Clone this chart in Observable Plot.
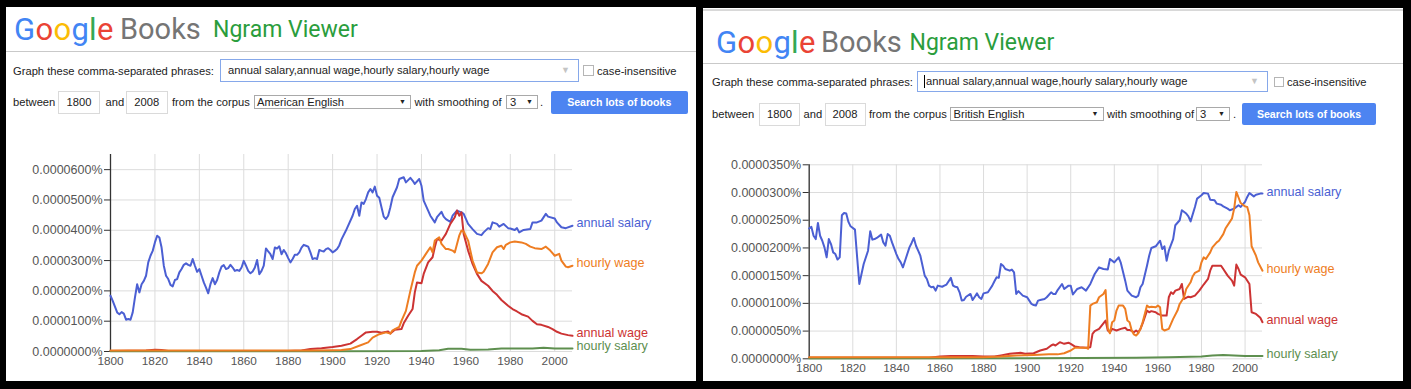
<!DOCTYPE html>
<html>
<head>
<meta charset="utf-8">
<script src="https://cdn.jsdelivr.net/npm/d3@7"></script>
<script src="https://cdn.jsdelivr.net/npm/@observablehq/plot@0.6"></script>
<style>
  html, body { margin: 0; padding: 0; }
  body { width: 1411px; height: 389px; background: #000; position: relative; overflow: hidden; }
  .panel { position: absolute; background: #fff; }
  .t { position: absolute; font-family: Arial, "Liberation Sans", sans-serif; font-size: 11.2px; line-height: 14px; color: #222; white-space: nowrap; }
  .logo { position: absolute; font-family: Roboto, "Open Sans", sans-serif; white-space: nowrap; }
  .box { position: absolute; box-sizing: border-box; font-family: Arial, "Liberation Sans", sans-serif; font-size: 11.2px; color: #222; white-space: nowrap; background: #fff; }
  .hr { position: absolute; height: 1px; background: #c9c9c9; }
  .chart { position: absolute; }
</style>
</head>
<body>
<!-- panels -->
<div class="panel" style="left:6px;top:7px;width:690px;height:374px"></div>
<div class="panel" style="left:703px;top:8px;width:700px;height:373px"></div>
<div class="hr" style="left:703px;top:9px;width:700px;height:2px;background:#d8d8d8"></div>

<!-- LEFT header -->
<div class="logo" style="left:14px;top:14px;font-size:31px;line-height:31px;letter-spacing:0.3px"><span style="color:#4285f4">G</span><span style="color:#ea4335">o</span><span style="color:#fbbc05">o</span><span style="color:#4285f4">g</span><span style="color:#34a853">l</span><span style="color:#ea4335">e</span></div>
<div class="logo" style="left:120px;top:14px;font-size:29px;line-height:31px;color:#757575">Books</div>
<div class="logo" style="left:213px;top:17px;font-size:23px;line-height:25px;color:#2a9d3c">Ngram Viewer</div>
<div class="hr" style="left:6px;top:51px;width:690px"></div>

<div class="t" style="left:13px;top:63.5px">Graph these comma-separated phrases:</div>
<div class="box" style="left:220px;top:59px;width:359px;height:23px;border:1px solid #86a8ea;padding-left:7px;line-height:21px">annual salary,annual wage,hourly salary,hourly wage<span style="position:absolute;right:8px;top:0;color:#c4c4c4;font-size:9px">▼</span></div>
<div class="box" style="left:583px;top:65px;width:11px;height:11px;border:1px solid #b5b5b5"></div>
<div class="t" style="left:597px;top:63.5px">case-insensitive</div>

<div class="t" style="left:13px;top:95px">between</div>
<div class="box" style="left:58px;top:90.5px;width:42px;height:23px;border:1px solid #dadada;text-align:center;line-height:21px">1800</div>
<div class="t" style="left:105.5px;top:95px">and</div>
<div class="box" style="left:126px;top:90.5px;width:41.5px;height:23px;border:1px solid #dadada;text-align:center;line-height:21px">2008</div>
<div class="t" style="left:172px;top:95px">from the corpus</div>
<div class="box" style="left:254px;top:95px;width:157px;height:14px;border:1px solid #a9a9a9;padding-left:2px;line-height:12px">American English<span style="position:absolute;right:4px;top:0;font-size:7px">▼</span></div>
<div class="t" style="left:414.5px;top:95px">with smoothing of</div>
<div class="box" style="left:506px;top:95px;width:32px;height:14px;border:1px solid #a9a9a9;padding-left:3px;line-height:12px">3<span style="position:absolute;right:4px;top:0;font-size:7px">▼</span></div>
<div class="t" style="left:540px;top:95px">.</div>
<div class="box" style="left:551px;top:90.5px;width:136.5px;height:23px;background:#4d84f1;border-radius:2px;color:#fff;font-weight:bold;font-size:10.6px;text-align:center;line-height:23px">Search lots of books</div>

<!-- RIGHT header -->
<div class="logo" style="left:716px;top:27px;font-size:31px;line-height:31px;letter-spacing:0.3px"><span style="color:#4285f4">G</span><span style="color:#ea4335">o</span><span style="color:#fbbc05">o</span><span style="color:#4285f4">g</span><span style="color:#34a853">l</span><span style="color:#ea4335">e</span></div>
<div class="logo" style="left:821px;top:27px;font-size:29px;line-height:31px;color:#757575">Books</div>
<div class="logo" style="left:909.5px;top:30px;font-size:23px;line-height:25px;color:#2a9d3c">Ngram Viewer</div>
<div class="hr" style="left:703px;top:63px;width:700px"></div>

<div class="t" style="left:712px;top:74.5px">Graph these comma-separated phrases:</div>
<div class="box" style="left:917px;top:71px;width:351px;height:20.5px;border:1px solid #86a8ea;padding-left:8px;line-height:18.5px"><span style="position:absolute;left:6px;top:3px;width:1px;height:13px;background:#000"></span>annual salary,annual wage,hourly salary,hourly wage<span style="position:absolute;right:8px;top:0;color:#c4c4c4;font-size:9px">▼</span></div>
<div class="box" style="left:1274px;top:76.5px;width:10px;height:10px;border:1px solid #b5b5b5"></div>
<div class="t" style="left:1287px;top:74.5px">case-insensitive</div>

<div class="t" style="left:712px;top:107px">between</div>
<div class="box" style="left:759px;top:102.5px;width:41px;height:23px;border:1px solid #dadada;text-align:center;line-height:21px">1800</div>
<div class="t" style="left:803.5px;top:107px">and</div>
<div class="box" style="left:824.5px;top:102.5px;width:41px;height:23px;border:1px solid #dadada;text-align:center;line-height:21px">2008</div>
<div class="t" style="left:869px;top:107px">from the corpus</div>
<div class="box" style="left:949.5px;top:107px;width:154px;height:14px;border:1px solid #a9a9a9;padding-left:3px;line-height:12px">British English<span style="position:absolute;right:4px;top:0;font-size:7px">▼</span></div>
<div class="t" style="left:1107px;top:107px">with smoothing of</div>
<div class="box" style="left:1196px;top:107px;width:34px;height:14px;border:1px solid #a9a9a9;padding-left:3px;line-height:12px">3<span style="position:absolute;right:4px;top:0;font-size:7px">▼</span></div>
<div class="t" style="left:1233px;top:107px">.</div>
<div class="box" style="left:1242px;top:102.5px;width:134px;height:22px;background:#4d84f1;border-radius:2px;color:#fff;font-weight:bold;font-size:10.6px;text-align:center;line-height:22px">Search lots of books</div>

<div id="chartL" class="chart" style="left:6px;top:140px"></div>
<div id="chartR" class="chart" style="left:703px;top:140px"></div>

<script>
// ---------- tick labels ----------
const xTicks = [1800, 1820, 1840, 1860, 1880, 1900, 1920, 1940, 1960, 1980, 2000];
const yTicksUS = [0, 10, 20, 30, 40, 50, 60];          // units of 0.0000010%
const yTicksGB = [0, 5, 10, 15, 20, 25, 30, 35];

// ---------- series names & colours ----------
const seriesNames = ["annual salary", "annual wage", "hourly salary", "hourly wage"];
const seriesColors = ["#4b5fd3", "#cc3333", "#5e8f4f", "#ee7d22"];

// ---------- American English (values in 0.0000010% units) ----------
const usAnnualSalary = [[1800,18.4],[1801,16.7],[1803,12.9],[1804,12.3],[1805,13],[1806,12.5],[1807,10.5],[1808,10.7],[1809,10.5],[1810,12.9],[1811,17.8],[1812,22.2],[1813,19.5],[1814,22.2],[1815,23.3],[1816,25],[1817,29.4],[1818,31.6],[1819,33.2],[1820,36],[1821,38.2],[1822,37.6],[1823,34.3],[1824,28.3],[1825,25],[1826,23.9],[1827,22],[1828,21.5],[1829,23.6],[1830,23.9],[1831,26.1],[1832,27.2],[1833,28.6],[1834,29.1],[1835,28.6],[1836,28.3],[1837,30.5],[1838,28.3],[1839,26.3],[1840,27.2],[1841,25],[1842,22.8],[1843,21.1],[1844,19.2],[1845,22.2],[1846,24.2],[1847,22.2],[1848,23.6],[1849,26.1],[1850,28],[1851,28.5],[1852,27.2],[1853,27.5],[1854,28.6],[1855,27.7],[1856,26.6],[1857,26.9],[1858,26.6],[1859,27.7],[1860,29.9],[1861,28.3],[1862,26.6],[1863,25.8],[1864,26.4],[1865,27.7],[1866,30.2],[1867,25.5],[1868,26.6],[1869,28.3],[1870,34],[1871,33],[1872,32.1],[1873,30.5],[1874,34.3],[1875,34],[1876,34.7],[1877,32.1],[1878,33.5],[1879,32.4],[1880,30.8],[1881,29.4],[1882,30.5],[1883,31.9],[1884,31.9],[1885,32.7],[1886,34.3],[1887,35.2],[1888,34.9],[1889,34.6],[1890,32.7],[1891,30.5],[1892,30.8],[1893,30.5],[1894,33.5],[1895,33.2],[1896,33],[1897,33.8],[1898,34.1],[1899,33.5],[1900,32.7],[1901,33.2],[1902,33.8],[1903,35],[1904,37],[1906,39.9],[1909,44.8],[1910,47],[1911,48.1],[1912,44.8],[1913,49.2],[1914,48.7],[1915,50.3],[1916,52.5],[1917,53.6],[1918,52.5],[1919,54.4],[1920,51.4],[1921,50.7],[1922,47.6],[1923,44.5],[1924,43.7],[1925,44.8],[1926,47.6],[1927,50.9],[1929,54.2],[1930,56.9],[1932,57.5],[1933,55.8],[1935,57.3],[1936,56.4],[1937,55.3],[1939,56.9],[1940,54.7],[1941,49.8],[1943,46.5],[1944,44.8],[1946,42.6],[1947,44.3],[1949,46.1],[1950,44.5],[1951,43.7],[1953,42.8],[1954,44.8],[1956,46.5],[1958,45.9],[1959,45.4],[1961,42.1],[1963,40.4],[1965,38.8],[1967,38.4],[1968,39.3],[1970,40.7],[1971,40.4],[1972,42.6],[1974,42.1],[1975,41.2],[1977,42.1],[1979,40.7],[1980,40.6],[1982,40.1],[1983,40.7],[1984,39.3],[1986,40.1],[1989,40.4],[1990,42.6],[1992,42.6],[1994,43.2],[1996,45.4],[1997,44.5],[2000,43.9],[2001,42.6],[2003,41],[2005,40.7],[2008,41.5]];
const usAnnualWage = [[1800,0.2],[1816,0.3],[1820,0.6],[1823,0.5],[1826,0.2],[1880,0.2],[1886,0.3],[1890,0.8],[1895,1.1],[1900,1.5],[1904,1.9],[1908,2.6],[1911,4.1],[1913,5.2],[1915,6.3],[1918,6.5],[1920,6.5],[1922,6.2],[1925,6.6],[1926,5.9],[1928,7.2],[1931,7.4],[1932,9.3],[1934,11.8],[1936,14],[1937,19.5],[1938,22.8],[1940,22.5],[1941,25.6],[1943,29.4],[1945,31.1],[1946,34.4],[1947,37.1],[1949,36.6],[1950,37.7],[1951,38.8],[1953,42.1],[1955,44.3],[1956,46.5],[1957,44.8],[1958,45.9],[1959,38.8],[1961,33.3],[1963,28.9],[1965,25.6],[1967,23.3],[1970,21.7],[1972,20],[1974,18.7],[1976,17],[1979,15.1],[1981,14],[1983,13.2],[1985,12.3],[1988,11.5],[1990,10.1],[1992,9],[1994,8.8],[1997,8.1],[1999,7.4],[2001,6.5],[2003,5.9],[2006,5.4],[2008,5.2]];
const usHourlySalary = [[1800,0.1],[1900,0.1],[1940,0.2],[1948,0.4],[1952,0.9],[1958,0.9],[1962,0.6],[1970,0.7],[1976,1.0],[1990,1.0],[1995,1.2],[2000,1.0],[2008,1.0]];
const usHourlyWage = [[1800,0.3],[1850,0.3],[1890,0.3],[1900,0.4],[1904,0.5],[1908,0.8],[1912,1.9],[1916,3],[1918,4.6],[1921,5.7],[1924,6.3],[1926,5.9],[1927,7],[1930,8.1],[1931,10.1],[1933,13.4],[1935,20],[1937,26.1],[1938,28.3],[1940,30],[1942,32.2],[1944,34.4],[1945,32.7],[1946,36.6],[1948,37.7],[1949,35.5],[1951,33.8],[1952,33.8],[1954,33.3],[1955,32.7],[1957,38.2],[1958,39.9],[1959,39.6],[1961,36.6],[1963,30],[1965,26.1],[1967,25.8],[1968,26.3],[1970,28.9],[1972,32.7],[1974,34.4],[1976,34.9],[1977,33.8],[1978,35.2],[1980,36],[1982,36.3],[1985,36],[1987,35.5],[1989,34.6],[1991,34.1],[1994,33.8],[1996,34.6],[1998,33.3],[2000,31.6],[2002,32.2],[2003,30],[2005,28],[2006,27.8],[2008,28.3]];

// ---------- British English ----------
const gbAnnualSalary = [[1800,23.5],[1801,23.8],[1802,22.2],[1803,21.6],[1804,24.5],[1805,22.2],[1806,21.3],[1807,20.1],[1808,18.3],[1809,21.6],[1810,20.7],[1811,19.2],[1812,18.9],[1813,17.9],[1814,18.3],[1815,25.9],[1816,26.3],[1817,26.2],[1818,24.7],[1819,23.9],[1821,23.3],[1822,18.3],[1823,13.5],[1824,15.3],[1825,17.1],[1827,19.5],[1828,23],[1829,21.5],[1830,21.6],[1831,21.8],[1833,22.4],[1834,21],[1835,20.4],[1836,22.5],[1837,22.2],[1838,21],[1840,18.9],[1841,18],[1842,17.4],[1843,16.5],[1844,17.7],[1846,20.1],[1847,20.9],[1848,21.8],[1849,20.4],[1850,19.5],[1851,18.6],[1853,15],[1854,14.4],[1855,13.2],[1856,12.9],[1857,13],[1858,12.3],[1859,13.2],[1861,13],[1862,13.2],[1863,13.4],[1865,14.6],[1866,13.2],[1867,13],[1868,12.9],[1869,12],[1870,10.5],[1871,10.6],[1872,11.2],[1874,11.7],[1875,10.6],[1876,11.2],[1877,11.8],[1878,11.1],[1879,10.8],[1880,11.8],[1882,12],[1883,12.6],[1884,13.2],[1885,14],[1886,14.7],[1887,14.6],[1888,17.1],[1889,16.8],[1890,16.2],[1892,15.9],[1893,16.1],[1894,15.6],[1895,11.7],[1896,12.2],[1897,11.8],[1898,11.4],[1900,11.1],[1901,10.5],[1902,9.9],[1903,9.7],[1904,9.6],[1905,10.5],[1906,10.6],[1908,10.8],[1909,11.1],[1911,12],[1912,11.7],[1913,11.7],[1914,12.4],[1916,13.5],[1917,12.6],[1919,13.2],[1920,13.2],[1921,11.6],[1923,12.6],[1925,12.9],[1927,12.3],[1929,13.5],[1931,15.3],[1933,16.5],[1935,16.2],[1937,16.1],[1938,18],[1940,17.4],[1942,18.3],[1943,17.3],[1945,14.1],[1946,12.3],[1948,11.4],[1950,11.1],[1951,11.4],[1952,12.9],[1953,13.5],[1955,16.8],[1956,18.6],[1957,20],[1959,20.3],[1961,21.3],[1962,19.8],[1963,20.3],[1964,17.7],[1965,19.5],[1967,21.6],[1968,24.1],[1970,25],[1971,26.8],[1973,26.2],[1974,25.7],[1975,24.8],[1977,27.4],[1978,28.9],[1980,29.5],[1981,29.9],[1983,29.8],[1984,28.7],[1986,28.6],[1987,28],[1989,27.8],[1990,27.5],[1992,27.1],[1993,26.8],[1995,27.1],[1997,27.7],[1998,27.4],[2000,28.3],[2001,29.2],[2002,29.9],[2004,29.3],[2005,29.6],[2007,29.8],[2008,29.8]];
const gbAnnualWage = [[1800,0.2],[1855,0.2],[1860,0.4],[1865,0.5],[1875,0.5],[1880,0.4],[1885,0.4],[1888,0.6],[1892,0.9],[1897,1.1],[1899,0.9],[1903,1],[1906,1.5],[1909,1.8],[1911,2.4],[1912,2.6],[1913,2.4],[1915,3],[1917,2.7],[1919,2.9],[1920,2.7],[1922,2.2],[1924,2.1],[1927,2],[1929,2.1],[1930,4.5],[1931,5],[1933,5.4],[1935,6.4],[1936,6.9],[1937,5.1],[1938,4.8],[1939,5.4],[1941,5.1],[1943,5.4],[1945,5.6],[1946,5.2],[1947,5.2],[1949,4.8],[1950,5.1],[1951,4.8],[1952,5.4],[1953,6.4],[1955,8.7],[1956,8.4],[1957,8.6],[1959,8.4],[1960,8.1],[1962,7.8],[1964,7.8],[1965,11.1],[1966,12],[1967,11.7],[1968,12.3],[1970,12.6],[1971,13.5],[1972,10.8],[1974,11.2],[1975,11.1],[1977,11.4],[1979,12.3],[1981,13.4],[1983,14.4],[1984,15.9],[1985,16.8],[1987,16.8],[1989,16.8],[1990,16.2],[1992,15],[1994,14.1],[1995,13.2],[1996,17],[1997,16.2],[1998,15.2],[2000,14.7],[2002,13.5],[2003,8.4],[2005,8.1],[2007,7.4],[2008,6.6]];
const gbHourlySalary = [[1800,0.05],[1900,0.1],[1950,0.2],[1965,0.3],[1980,0.4],[1985,0.6],[1990,0.7],[1995,0.6],[2000,0.5],[2008,0.5]];
const gbHourlyWage = [[1800,0.3],[1860,0.3],[1880,0.3],[1888,0.4],[1895,0.6],[1903,0.7],[1910,0.8],[1914,0.8],[1917,1.0],[1920,1.5],[1922,2],[1924,2],[1927,2],[1928,1.8],[1929,9.6],[1930,9.9],[1932,10.2],[1933,11.1],[1935,11.7],[1936,12.4],[1937,5.5],[1938,4.6],[1939,6.6],[1940,6.9],[1941,8.7],[1942,9.6],[1944,9.6],[1945,9],[1946,6.9],[1947,6.6],[1948,5.1],[1949,4.4],[1950,4.2],[1951,4.6],[1952,5.4],[1953,6.6],[1955,9.6],[1956,9.3],[1957,9.4],[1959,9.3],[1960,9.6],[1961,9.3],[1962,5.4],[1963,5.1],[1965,5.4],[1966,6.3],[1967,7.2],[1969,8.7],[1970,9.9],[1972,11.1],[1973,12.6],[1975,13.8],[1976,14.9],[1977,15.5],[1979,15.9],[1980,17.4],[1981,18.3],[1982,18],[1984,19.2],[1985,20.1],[1987,21],[1988,21.3],[1990,22.5],[1991,23.5],[1993,24.7],[1994,25.3],[1995,27.1],[1996,30.1],[1997,29.1],[1998,28.1],[2000,27.5],[2001,27.4],[2002,25.9],[2003,20.3],[2005,18.6],[2006,17.4],[2008,15.9]];

const fmtPct = v => (v * 1e-6).toFixed(7) + "%";

function buildSeries(arrays) {
  return arrays.map((data, i) => ({ name: seriesNames[i], color: seriesColors[i], data }));
}

function chart({ series, yMax, yTicks, width, mL, mR, mT, mB, labelDy }) {
  const last = series.map(s => ({ name: s.name, color: s.color, year: s.data[s.data.length - 1][0], value: s.data[s.data.length - 1][1] }));
  const rows = series.flatMap(s => s.data.map(([year, value]) => ({ name: s.name, color: s.color, year, value })));
  return Plot.plot({
    width, height: 240,
    marginLeft: mL, marginRight: mR, marginTop: mT, marginBottom: mB,
    style: { fontFamily: "Arial, 'Liberation Sans', sans-serif", background: "transparent", overflow: "visible" },
    x: { domain: [1800, 2008] },
    y: { domain: [0, yMax] },
    color: { type: "identity" },
    marks: [
      Plot.gridX(xTicks, { stroke: "#dcdcdc", strokeOpacity: 1 }),
      Plot.gridY(yTicks, { stroke: "#dcdcdc", strokeOpacity: 1 }),
      Plot.axisY(yTicks, { tickSize: 6, tickPadding: 2, tickFormat: fmtPct, fontSize: 12.5, fill: "#555", stroke: "#333", label: null }),
      Plot.ruleX([1800], { stroke: "#333", strokeWidth: 1.3 }),
      Plot.axisX(xTicks, { tickSize: 0, tickPadding: 5, tickFormat: d => String(d), fontSize: 11.8, fill: "#555", label: null }),
      Plot.line(rows, { x: "year", y: "value", z: "name", stroke: "color", strokeWidth: 2 }),
      Plot.text(last, { x: "year", y: "value", text: "name", fill: "color", textAnchor: "start", dx: 4, dy: labelDy, fontSize: 12.6 })
    ]
  });
}

const usSeries = buildSeries([usAnnualSalary, usAnnualWage, usHourlySalary, usHourlyWage]);
const gbSeries = buildSeries([gbAnnualSalary, gbAnnualWage, gbHourlySalary, gbHourlyWage]);

document.getElementById("chartL").appendChild(chart({ series: usSeries, yMax: 65, yTicks: yTicksUS, width: 690, mL: 104, mR: 124, mT: 14, mB: 29, labelDy: -3 }));
document.getElementById("chartR").appendChild(chart({ series: gbSeries, yMax: 35, yTicks: yTicksGB, width: 700, mL: 105.7, mR: 141, mT: 24.3, mB: 21.7, labelDy: -2 }));
</script>
</body>
</html>
